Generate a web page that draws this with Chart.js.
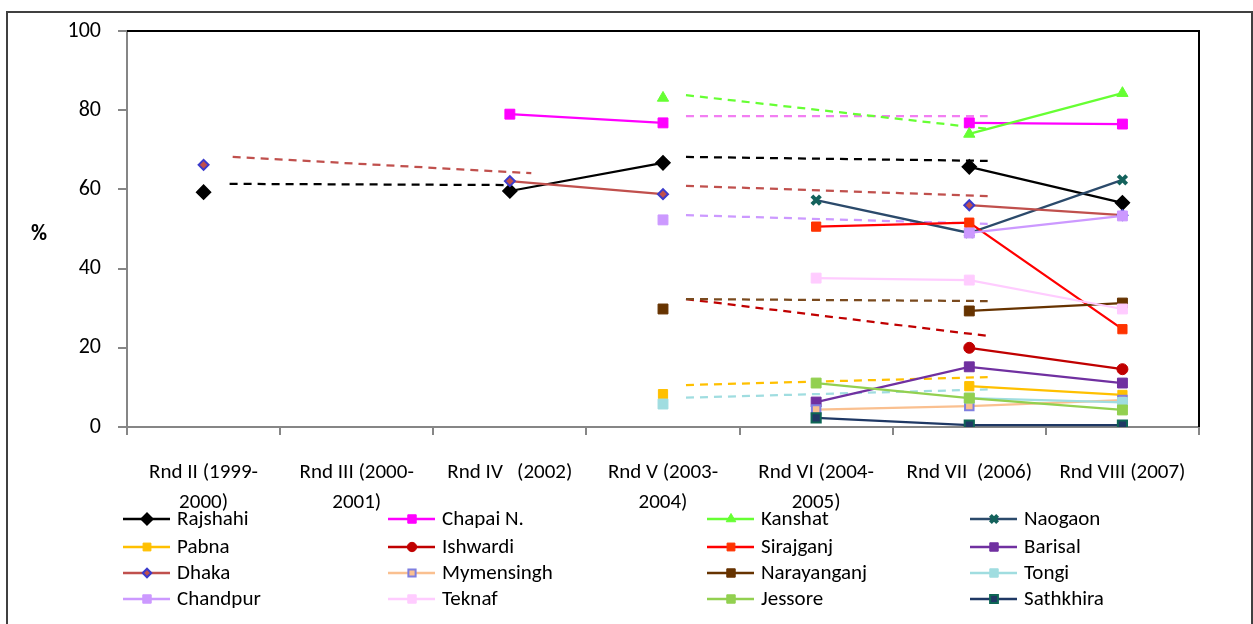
<!DOCTYPE html>
<html>
<head>
<meta charset="utf-8">
<script src="https://cdn.jsdelivr.net/npm/chart.js@4.4.0/dist/chart.umd.min.js"></script>
<style>
  html, body { margin: 0; padding: 0; background: #fff; }
</style>
</head>
<body>
<canvas id="chart" width="1253" height="624"></canvas>
<script>
// categories (rounds)
const categories = [
  ['Rnd II (1999-', '2000)'],
  ['Rnd III (2000-', '2001)'],
  ['Rnd IV   (2002)'],
  ['Rnd V (2003-', '2004)'],
  ['Rnd VI (2004-', '2005)'],
  ['Rnd VII  (2006)'],
  ['Rnd VIII (2007)']
];

// % values per site, null = not surveyed
const rajshahi    = [59.3, null, 59.6, 66.7, null, 65.7, 56.6];
const chapai      = [null, null, 79.0, 76.8, null, 76.8, 76.5];
const kanshat     = [null, null, null, 83.1, null, 74.0, 84.3];
const naogaon     = [null, null, null, null, 57.3, 49.0, 62.4];
const pabna       = [null, null, null, 8.3, null, 10.3, 8.1];
const ishwardi    = [null, null, null, null, null, 20.0, 14.6];
const sirajganj   = [null, null, null, null, 50.6, 51.6, 24.7];
const barisal     = [null, null, null, null, 6.3, 15.2, 11.1];
const dhaka       = [66.2, null, 62.1, 58.8, null, 56.0, 53.5];
const mymensingh  = [null, null, null, null, 4.4, 5.3, 6.8];
const narayanganj = [null, null, null, 29.8, null, 29.3, 31.3];
const tongi       = [null, null, null, 5.8, null, 7.3, 6.2];
const chandpur    = [null, null, null, 52.3, null, 49.0, 53.3];
const teknaf      = [null, null, null, null, 37.6, 37.1, 29.8];
const jessore     = [null, null, null, null, 11.1, 7.3, 4.3];
const sathkhira   = [null, null, null, null, 2.3, 0.5, 0.5];

// dashed trend segments: x in category index units, y in %
const trendEarlyX  = [0.17, 1.99];
const trendDhakaX  = [0.19, 2.14];
const trendLateX   = [3.15, 5.12];
const trendRajshahiEarly = [61.4, 61.1];
const trendDhakaEarly    = [68.2, 64.1];
const trendRajshahiLate  = [68.2, 67.2];
const trendDhakaLate     = [60.9, 58.3];
const trendKanshat       = [83.8, 75.3];
const trendChapai        = [78.5, 78.5];
const trendChandpur      = [53.5, 51.3];
const trendNarayanganj   = [32.3, 31.8];
const trendIshwardi      = [32.3, 23.0];
const trendPabna         = [10.6, 12.6];
const trendTongi         = [7.4, 9.5];

const yTicks = [0, 20, 40, 60, 80, 100];

const FONT = 'Carlito, Lato, "Open Sans", sans-serif';

let seriesCount = 0;
function series(label, data, color, style, fill, border, radius, bw) {
  seriesCount++;
  return {
    label, data,
    order: -seriesCount,   // later series on top, like the original
    borderColor: color,
    backgroundColor: color,
    borderWidth: 2.25,
    pointStyle: style,
    pointBackgroundColor: fill || color,
    pointBorderColor: border || fill || color,
    pointBorderWidth: bw || 1,
    pointRadius: radius || 7,
    pointHoverRadius: radius || 7,
    spanGaps: false,
    xAxisID: 'x',
    tension: 0
  };
}

function trend(xs, ys, color) {
  return {
    label: '_trend',
    order: 10,
    data: xs.map((x, i) => ({ x, y: ys[i] })),
    borderColor: color,
    borderWidth: 2.25,
    borderDash: [8, 6],
    pointRadius: 0,
    xAxisID: 'x2',
    tension: 0
  };
}

const mainSets = [
  series('Rajshahi', rajshahi, '#000000', 'rectRot', '#000000', '#000000', 7, 1.5),
  series('Chapai N.', chapai, '#FF00FF', 'rect', '#FF00FF', '#FF00FF', 7),
  series('Kanshat', kanshat, '#66FF33', 'triangle', '#66FF33', '#66FF33', 6.5),
  series('Naogaon', naogaon, '#2B4A6B', 'crossRot', '#14625C', '#14625C', 6, 4),
  series('Pabna', pabna, '#FFC000', 'rect', '#FFC000', '#FFC000', 6.5),
  series('Ishwardi', ishwardi, '#C00000', 'circle', '#C00000', '#C00000', 5.5),
  series('Sirajganj', sirajganj, '#FF0000', 'rect', '#FF3300', '#FF3300', 6.5),
  series('Barisal', barisal, '#7030A0', 'rect', '#7030A0', '#7030A0', 7),
  series('Dhaka', dhaka, '#C0504D', 'rectRot', '#C0504D', '#3B3BCB', 5, 2),
  series('Mymensingh', mymensingh, '#FAC090', 'rect', '#FAC090', '#7F7FE0', 6, 2),
  series('Narayanganj', narayanganj, '#663300', 'rect', '#663300', '#663300', 7),
  series('Tongi', tongi, '#A0DDE0', 'rect', '#A0DDE0', '#A0DDE0', 7),
  series('Chandpur', chandpur, '#CC99FF', 'rect', '#CC99FF', '#CC99FF', 7),
  series('Teknaf', teknaf, '#FFCCFF', 'rect', '#FFCCFF', '#FFCCFF', 7),
  series('Jessore', jessore, '#92D050', 'rect', '#92D050', '#92D050', 7),
  series('Sathkhira', sathkhira, '#1F3864', 'rect', '#1F3864', '#0E6655', 6.5, 2)
];

const trendSets = [
  trend(trendEarlyX, trendRajshahiEarly, '#000000'),
  trend(trendDhakaX, trendDhakaEarly, '#C0504D'),
  trend(trendLateX, trendRajshahiLate, '#000000'),
  trend(trendLateX, trendDhakaLate, '#C0504D'),
  trend(trendLateX, trendKanshat, '#66FF33'),
  trend(trendLateX, trendChapai, '#F27EF2'),
  trend(trendLateX, trendChandpur, '#CC99FF'),
  trend(trendLateX, trendNarayanganj, '#7A4A1E'),
  trend(trendLateX, trendIshwardi, '#C00000'),
  trend(trendLateX, trendPabna, '#FFC000'),
  trend(trendLateX, trendTongi, '#A0DDE0')
];

// frame, plot box, "%" title and Excel-like legend
const decorations = {
  id: 'decorations',
  afterDraw(chart) {
    const ctx = chart.ctx;
    const a = chart.chartArea;
    ctx.save();
    ctx.strokeStyle = '#404040';
    ctx.lineWidth = 2;
    ctx.strokeRect(7, 12, 1245, 640);

    ctx.strokeStyle = '#000';
    ctx.lineWidth = 2;
    ctx.beginPath();
    ctx.moveTo(a.left, a.top);
    ctx.lineTo(a.right, a.top);
    ctx.lineTo(a.right, a.bottom);
    ctx.stroke();

    ctx.fillStyle = '#000';
    ctx.font = 'bold 22px ' + FONT;
    ctx.textAlign = 'center';
    ctx.textBaseline = 'middle';
    ctx.fillText('%', 39, 234);

    const cols = [123, 388, 707, 970];
    const rows = [519, 547, 573, 599];
    const drawPoint = Chart.helpers && Chart.helpers.drawPoint;
    mainSets.forEach((ds, i) => {
      const x = cols[i % 4];
      const y = rows[Math.floor(i / 4)];
      ctx.strokeStyle = ds.borderColor;
      ctx.lineWidth = 2.5;
      ctx.setLineDash([]);
      ctx.beginPath();
      ctx.moveTo(x, y);
      ctx.lineTo(x + 47, y);
      ctx.stroke();
      ctx.fillStyle = ds.pointBackgroundColor;
      ctx.strokeStyle = ds.pointBorderColor;
      ctx.lineWidth = ds.pointBorderWidth;
      if (drawPoint) {
        drawPoint(ctx, { pointStyle: ds.pointStyle, radius: ds.pointRadius * 0.85, rotation: 0, borderWidth: ds.pointBorderWidth }, x + 24, y);
      } else {
        ctx.fillRect(x + 19, y - 5, 10, 10);
      }
      ctx.fillStyle = '#000';
      ctx.font = '21px ' + FONT;
      ctx.textAlign = 'left';
      ctx.fillText(ds.label, x + 54, y + 1);
    });
    ctx.restore();
  }
};

new Chart(document.getElementById('chart'), {
  type: 'line',
  data: {
    labels: categories,
    datasets: mainSets.concat(trendSets)
  },
  options: {
    responsive: false,
    animation: false,
    layout: { padding: { left: 0, top: 31, right: 54, bottom: 87 } },
    plugins: {
      legend: { display: false },
      tooltip: { enabled: false }
    },
    scales: {
      x: {
        type: 'category',
        offset: true,
        grid: {
          offset: true,
          drawOnChartArea: false,
          drawTicks: true,
          tickLength: 8,
          color: '#868686',
          lineWidth: 2
        },
        border: { color: '#868686', width: 2 },
        ticks: {
          color: '#000',
          font: { family: FONT, size: 21, lineHeight: 1.43 },
          padding: 23,
          maxRotation: 0,
          autoSkip: false
        },
        afterFit(scale) { scale.height = 110; }
      },
      x2: {
        type: 'linear',
        display: false,
        min: -0.5,
        max: 6.5
      },
      y: {
        min: 0,
        max: 100,
        afterBuildTicks(scale) { scale.ticks = yTicks.map(v => ({ value: v })); },
        grid: {
          drawOnChartArea: false,
          tickLength: 9,
          color: '#868686',
          lineWidth: 2
        },
        border: { color: '#868686', width: 2 },
        ticks: {
          color: '#000',
          font: { family: FONT, size: 22 },
          padding: 17
        },
        afterFit(scale) { scale.width = 127; }
      }
    }
  },
  plugins: [decorations]
});
</script>
</body>
</html>
